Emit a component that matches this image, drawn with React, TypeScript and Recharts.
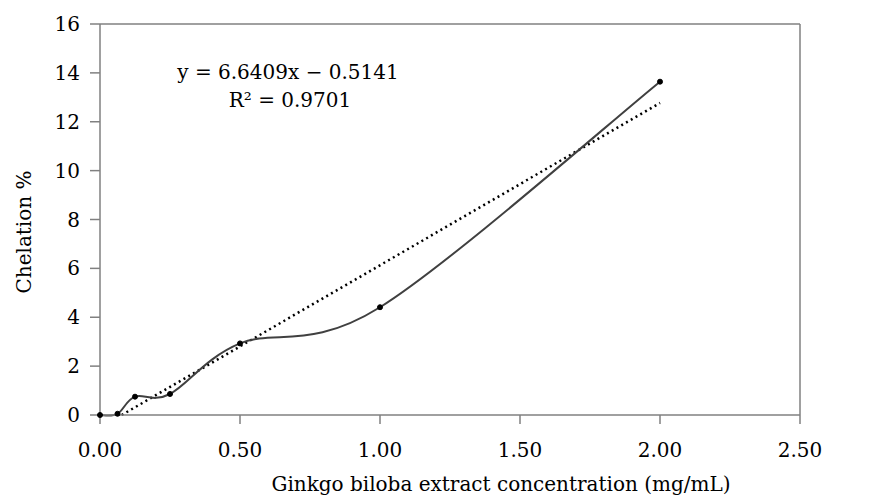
import { LineChart, Line, XAxis, YAxis, ReferenceLine, Customized } from 'recharts';

const concentration = [0, 0.0625, 0.125, 0.25, 0.5, 1.0, 2.0];
const chelation = [0, 0.05, 0.75, 0.86, 2.93, 4.41, 13.64];
const trendX = [0.0774, 2.0];
const trendY = [0, 12.77];
const xTicks = [0, 0.5, 1.0, 1.5, 2.0, 2.5];
const yTicks = [0, 2, 4, 6, 8, 10, 12, 14, 16];

const measured = concentration.map((x, i) => ({ x, y: chelation[i] }));
const trend = trendX.map((x, i) => ({ x, y: trendY[i] }));

const FONT = "'DejaVu Serif', serif";

// Excel-style smoothed line (Catmull-Rom through the points)
const excelSmooth = (ctx: any) => {
  let pts: number[][] = [];
  return {
    areaStart() {},
    areaEnd() {},
    lineStart() { pts = []; },
    lineEnd() {
      const n = pts.length;
      if (!n) return;
      ctx.moveTo(pts[0][0], pts[0][1]);
      for (let i = 0; i < n - 1; i++) {
        const p0 = pts[Math.max(i - 1, 0)];
        const p1 = pts[i];
        const p2 = pts[i + 1];
        const p3 = pts[Math.min(i + 2, n - 1)];
        ctx.bezierCurveTo(
          p1[0] + (p2[0] - p0[0]) / 6, p1[1] + (p2[1] - p0[1]) / 6,
          p2[0] - (p3[0] - p1[0]) / 6, p2[1] - (p3[1] - p1[1]) / 6,
          p2[0], p2[1]
        );
      }
    },
    point(x: number, y: number) { pts.push([x, y]); },
  };
};

const Texts = () => (
  <g style={{ fontFamily: FONT, fontSize: 20 }} fill="#000">
    <text x={288} y={79} textAnchor="middle">y = 6.6409x − 0.5141</text>
    <text x={290} y={107} textAnchor="middle">R² = 0.9701</text>
    <text x={501} y={491} textAnchor="middle">Ginkgo biloba extract concentration (mg/mL)</text>
    <text x={0} y={0} textAnchor="middle" transform="translate(31 232) rotate(-90)">Chelation %</text>
  </g>
);

export default function App() {
  const tickStyle = { fill: '#000', fontSize: 20, style: { fontFamily: FONT } };
  return (
    <div style={{ position: 'absolute', left: 0, top: 0, background: '#fff', fontFamily: FONT }}>
      <LineChart width={877} height={497} margin={{ top: 24, right: 77, left: 10, bottom: 22 }}>
        <XAxis
          type="number"
          dataKey="x"
          domain={[0, 2.5]}
          ticks={xTicks}
          tickFormatter={(v) => v.toFixed(2)}
          stroke="#808080"
          strokeWidth={1.5}
          tickSize={9}
          tickMargin={19}
          tick={tickStyle}
          height={60}
        />
        <YAxis
          type="number"
          dataKey="y"
          domain={[0, 16]}
          ticks={yTicks}
          stroke="#808080"
          strokeWidth={1.5}
          tickSize={10}
          tickMargin={10}
          tick={tickStyle}
          width={90}
        />
        <ReferenceLine y={16} stroke="#808080" strokeWidth={1.5} />
        <ReferenceLine x={2.5} stroke="#808080" strokeWidth={1.5} />
        <Line
          data={trend}
          dataKey="y"
          type="linear"
          stroke="#000"
          strokeWidth={2.5}
          strokeDasharray="2 3.5"
          dot={false}
          isAnimationActive={false}
        />
        <Line
          data={measured}
          dataKey="y"
          type={excelSmooth as any}
          stroke="#404040"
          strokeWidth={2}
          dot={{ r: 2.5, fill: '#000', stroke: '#000', strokeWidth: 1 }}
          isAnimationActive={false}
        />
        <Customized component={Texts} />
      </LineChart>
    </div>
  );
}
